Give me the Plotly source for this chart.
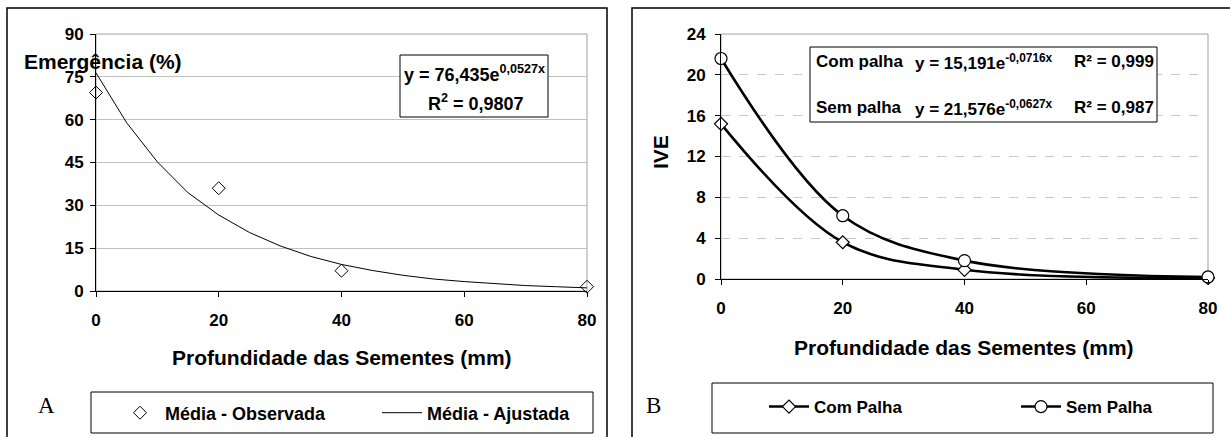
import plotly.graph_objects as go

W, H = 1230, 437

# ---------------- data ----------------
depth = [0, 20, 40, 80]
emerg_obs = [69.5, 36.0, 7.1, 1.5]
# fitted curve (Panel A) read along the drawn trendline
fit_x = [0, 5, 10, 15, 20, 25, 30, 35, 40, 45, 50, 55, 60, 65, 70, 75, 80]
fit_y = [76.4, 58.9, 45.2, 34.4, 26.6, 20.5, 15.8, 12.1, 9.3, 7.2, 5.5, 4.2, 3.3, 2.5, 1.9, 1.5, 1.1]

ive_com = [15.2, 3.6, 0.9, 0.1]
ive_sem = [21.6, 6.2, 1.8, 0.2]

x_ticks = [0, 20, 40, 60, 80]
yA_ticks = [0, 15, 30, 45, 60, 75, 90]
yB_ticks = [0, 4, 8, 12, 16, 20, 24]

FONT = "Liberation Sans"


def px(x):
    return x / W


def py(y):
    return 1 - y / H


fig = go.Figure()

# Panel A traces
fig.add_trace(go.Scatter(
    x=depth, y=emerg_obs, mode="markers", name="Média - Observada", showlegend=True,
    marker=dict(symbol="diamond-open", size=10, color="black", line=dict(width=1)),
    xaxis="x", yaxis="y", legend="legend", cliponaxis=False))
fig.add_trace(go.Scatter(
    x=fit_x, y=fit_y, mode="lines", name="Média - Ajustada", showlegend=True,
    line=dict(color="black", width=1),
    xaxis="x", yaxis="y", legend="legend2", cliponaxis=False))

# Panel B traces
fig.add_trace(go.Scatter(
    x=depth, y=ive_com, mode="lines+markers", name="Com Palha", showlegend=True,
    line=dict(color="black", width=2.6, shape="spline", smoothing=1.0),
    marker=dict(symbol="diamond", size=10, color="white", line=dict(color="black", width=1.2)),
    xaxis="x2", yaxis="y2", legend="legend3", cliponaxis=False))
fig.add_trace(go.Scatter(
    x=depth, y=ive_sem, mode="lines+markers", name="Sem Palha", showlegend=True,
    line=dict(color="black", width=2.6, shape="spline", smoothing=1.0),
    marker=dict(symbol="circle", size=12, color="white", line=dict(color="black", width=1.2)),
    xaxis="x2", yaxis="y2", legend="legend4", cliponaxis=False))

tickfont = dict(family=FONT, size=17, color="black", weight="bold")


def leg(x, y, size):
    return dict(orientation="h", x=px(x), y=py(y), xanchor="left", yanchor="middle",
                bgcolor="rgba(0,0,0,0)", borderwidth=0, itemwidth=40, visible=True,
                font=dict(family=FONT, size=size, color="black", weight="bold"))


fig.update_layout(
    width=W, height=H, showlegend=True,
    margin=dict(l=0, r=0, t=0, b=0, autoexpand=False),
    paper_bgcolor="white", plot_bgcolor="white",
    xaxis=dict(domain=[px(96), px(587)], range=[0, 80], tickvals=x_ticks,
               showgrid=False, zeroline=False, showline=True, linecolor="black", linewidth=1,
               ticks="outside", ticklen=5, tickcolor="black", tickfont=tickfont,
               ticklabelstandoff=9, anchor="y"),
    yaxis=dict(domain=[py(291), py(34)], range=[0, 90], tickvals=yA_ticks,
               showgrid=True, gridcolor="#c0c0c0", gridwidth=1, zeroline=False,
               showline=True, linecolor="black", linewidth=1,
               ticks="outside", ticklen=5, tickcolor="black", tickfont=tickfont,
               ticklabelstandoff=3, anchor="x"),
    xaxis2=dict(domain=[px(721), px(1208)], range=[0, 80], tickvals=x_ticks,
                showgrid=False, zeroline=False, showline=True, linecolor="black", linewidth=1,
                ticks="outside", ticklen=5, tickcolor="black", tickfont=tickfont,
                ticklabelstandoff=9, anchor="y2"),
    yaxis2=dict(domain=[py(279), py(34)], range=[0, 24], tickvals=yB_ticks,
                showgrid=True, gridcolor="#c8c8c8", gridwidth=1, griddash="dash", zeroline=False,
                showline=True, linecolor="black", linewidth=1,
                ticks="outside", ticklen=5, tickcolor="black", tickfont=tickfont,
                ticklabelstandoff=6, anchor="x2"),
    legend=leg(115, 413, 18),
    legend2=leg(377, 413, 18),
    legend3=leg(764, 407, 17),
    legend4=leg(1016, 407, 17),
)

shapes = []
# outer frames
shapes.append(dict(type="rect", xref="paper", yref="paper", x0=px(7), x1=px(607), y0=py(445), y1=py(8),
                   line=dict(color="black", width=1.5), layer="below"))
shapes.append(dict(type="rect", xref="paper", yref="paper", x0=px(632), x1=px(1240), y0=py(445), y1=py(8),
                   line=dict(color="black", width=1.5), layer="below"))
# plot-area borders (grey)
shapes.append(dict(type="rect", xref="paper", yref="paper", x0=px(96), x1=px(587), y0=py(291), y1=py(34),
                   line=dict(color="#a0a0a0", width=1), layer="below"))
shapes.append(dict(type="rect", xref="paper", yref="paper", x0=px(721), x1=px(1208), y0=py(279), y1=py(34),
                   line=dict(color="#a0a0a0", width=1), layer="below"))
# legend boxes
shapes.append(dict(type="rect", xref="paper", yref="paper", x0=px(91), x1=px(593), y0=py(433), y1=py(392),
                   line=dict(color="black", width=1), layer="below"))
shapes.append(dict(type="rect", xref="paper", yref="paper", x0=px(712), x1=px(1213), y0=py(433), y1=py(383),
                   line=dict(color="black", width=1), layer="below"))
# equation boxes
shapes.append(dict(type="rect", xref="paper", yref="paper", x0=px(400), x1=px(548), y0=py(117), y1=py(55),
                   line=dict(color="black", width=1), fillcolor="white", layer="above"))
shapes.append(dict(type="rect", xref="paper", yref="paper", x0=px(810), x1=px(1157), y0=py(122), y1=py(47),
                   line=dict(color="black", width=1), fillcolor="white", layer="above"))
fig.update_layout(shapes=shapes)

ann = []


def add(text, x, y, size, xanchor="center", yanchor="middle", angle=0, family=FONT, weight="bold"):
    ann.append(dict(text=text, xref="paper", yref="paper", x=px(x), y=py(y), xanchor=xanchor,
                    yanchor=yanchor, showarrow=False, textangle=angle,
                    font=dict(family=family, size=size, color="black", weight=weight)))


# axis titles
add("Emergência (%)", 103, 62, 21)
add("Profundidade das Sementes (mm)", 342, 357, 21)
add("IVE", 660, 152, 21, angle=-90)
add("Profundidade das Sementes (mm)", 964, 347, 21)
# panel letters
add("A", 47, 405, 23, family="Liberation Serif", weight="normal")
add("B", 653, 405, 23, family="Liberation Serif", weight="normal")
# equation A
add("y = 76,435e<sup>0,0527x</sup>", 402, 73, 18, xanchor="left")
add("R<sup>2</sup> = 0,9807", 476, 102, 18)
# equation B
add("Com palha", 814, 62, 17, xanchor="left")
add("y = 15,191e<sup>-0,0716x</sup>", 913, 62, 17, xanchor="left")
add("R² = 0,999", 1072, 62, 17, xanchor="left")
add("Sem palha", 814, 108, 17, xanchor="left")
add("y = 21,576e<sup>-0,0627x</sup>", 913, 108, 17, xanchor="left")
add("R² = 0,987", 1072, 108, 17, xanchor="left")
fig.update_layout(annotations=ann)

fig.write_html("out.html")
